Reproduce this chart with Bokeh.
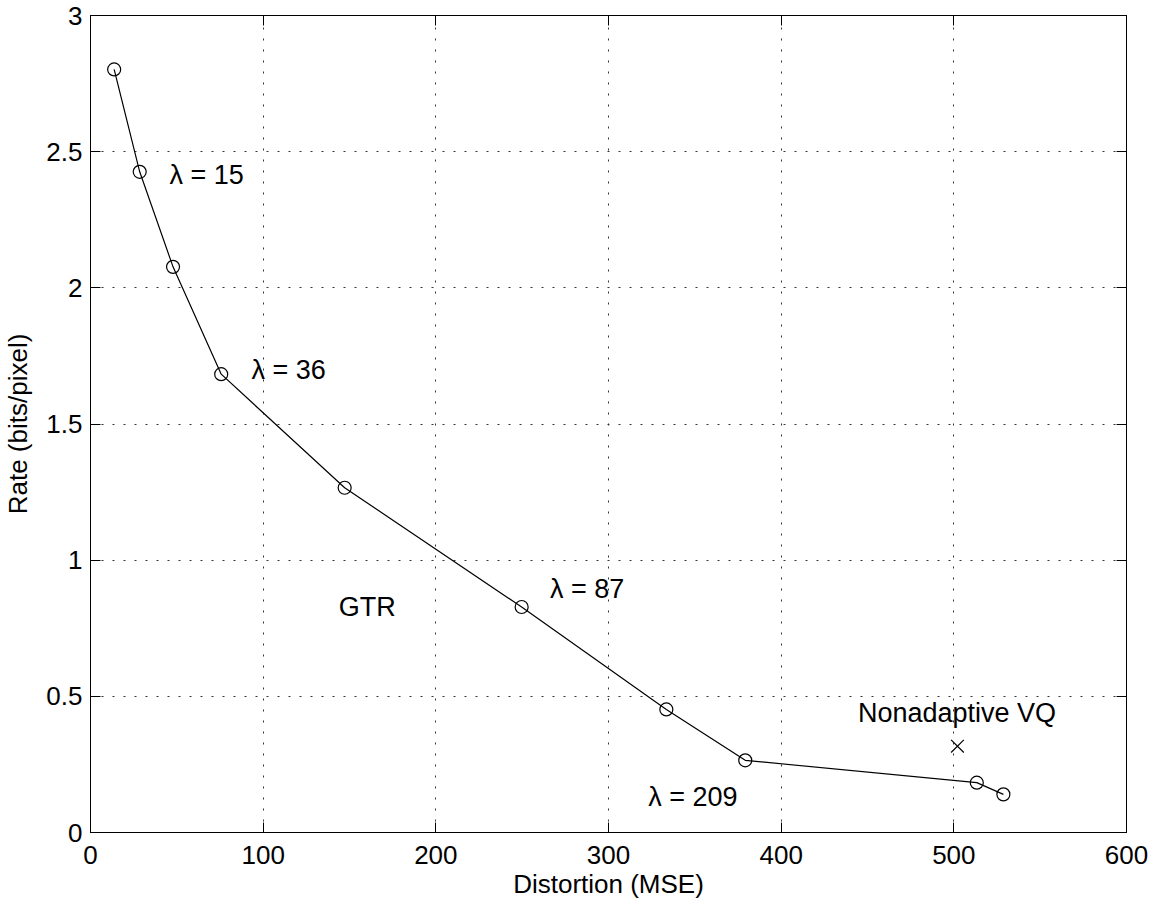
from bokeh.plotting import figure
from bokeh.models import ColumnDataSource, LinearAxis, FixedTicker, Range1d
from bokeh.core.properties import value
from bokeh.embed import file_html
from bokeh.resources import INLINE

# ---- data ----
distortion = [13.7, 28.5, 47.8, 75.7, 147.2, 249.7, 333.5, 379.2, 513.3, 528.7]
rate = [2.802, 2.426, 2.077, 1.683, 1.266, 0.828, 0.452, 0.265, 0.183, 0.140]

vq_distortion = [502.1]
vq_rate = [0.317]

label_text = ["\u03bb = 15", "\u03bb = 36", "\u03bb = 87", "\u03bb = 209", "GTR", "Nonadaptive VQ"]
label_x = [45.8, 93.2, 266.1, 323.0, 143.8, 444.5]
label_y = [2.414, 1.70, 0.895, 0.132, 0.828, 0.437]

x_ticks = [0, 100, 200, 300, 400, 500, 600]
x_tick_labels = ["0", "100", "200", "300", "400", "500", "600"]
y_ticks = [0, 0.5, 1, 1.5, 2, 2.5, 3]
y_tick_labels = ["0", "0.5", "1", "1.5", "2", "2.5", "3"]

FONT = "Liberation Sans"

p = figure(width=1160, height=907, output_backend="svg", toolbar_location=None,
           x_range=Range1d(0, 600), y_range=Range1d(0, 3),
           min_border_left=88, min_border_right=34, min_border_top=15, min_border_bottom=75)
p.background_fill_color = "white"
p.border_fill_color = "white"
p.outline_line_color = "black"
p.outline_line_width = 1

for ax, ticks, labels in ((p.xaxis[0], x_ticks, x_tick_labels), (p.yaxis[0], y_ticks, y_tick_labels)):
    ax.ticker = FixedTicker(ticks=ticks)
    ax.major_label_overrides = {t: l for t, l in zip(ticks, labels)}
    ax.major_tick_in = 10
    ax.major_tick_out = 0
    ax.minor_tick_line_color = None
    ax.axis_line_color = "black"
    ax.major_tick_line_color = "black"
    ax.major_label_text_font = FONT
    ax.major_label_text_font_size = "26px"
    ax.major_label_text_color = "black"
    ax.axis_label_text_font = FONT
    ax.axis_label_text_font_size = "26px"
    ax.axis_label_text_font_style = "normal"
    ax.axis_label_text_color = "black"

p.xaxis.axis_label = "Distortion (MSE)"
p.yaxis.axis_label = "Rate (bits/pixel)"
p.xaxis.major_label_standoff = 13
p.yaxis.major_label_standoff = 8
p.xaxis.axis_label_standoff = 2
p.yaxis.axis_label_standoff = 10

# box ticks on top and right
top = LinearAxis(ticker=FixedTicker(ticks=x_ticks), major_tick_in=10, major_tick_out=0,
                 minor_tick_line_color=None, major_label_text_font_size="1px",
                 major_label_standoff=0, major_label_text_alpha=0)
right = LinearAxis(ticker=FixedTicker(ticks=y_ticks), major_tick_in=10, major_tick_out=0,
                   minor_tick_line_color=None, major_label_text_font_size="1px",
                   major_label_standoff=0, major_label_text_alpha=0)
p.add_layout(top, "above")
p.add_layout(right, "right")

p.xgrid.ticker = FixedTicker(ticks=x_ticks)
p.ygrid.ticker = FixedTicker(ticks=y_ticks)
for g in (p.xgrid[0], p.ygrid[0]):
    g.grid_line_color = "#333333"
    g.grid_line_dash = "2 9"
    g.grid_line_width = 1

src = ColumnDataSource(dict(x=distortion, y=rate))
p.line("x", "y", source=src, line_color="black", line_width=1.2)
p.scatter("x", "y", source=src, marker="circle", size=13, fill_color=None,
          line_color="black", line_width=1.2)
p.scatter(vq_distortion, vq_rate, marker="x", size=18, line_color="black", line_width=1.2)

lsrc = ColumnDataSource(dict(x=label_x, y=label_y, t=label_text))
p.text("x", "y", text="t", source=lsrc, text_font=value(FONT), text_font_size="27px",
       text_align="left", text_baseline="middle", text_color="black")

open("out.html", "w").write(file_html(p, INLINE))
